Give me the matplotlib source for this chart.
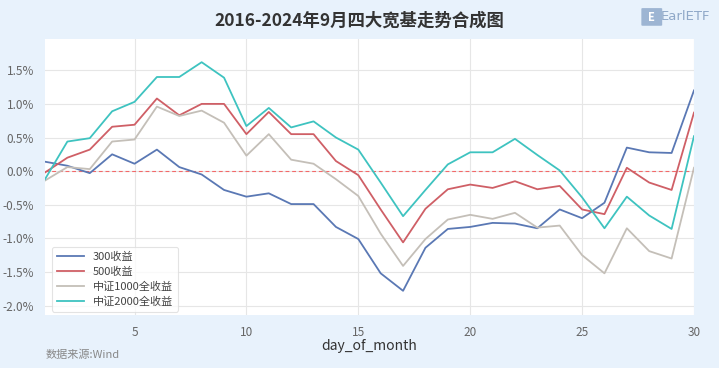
import matplotlib
matplotlib.use('Agg')
import matplotlib.pyplot as plt
from matplotlib.patches import FancyBboxPatch

plt.rcParams['font.family'] = ['Noto Sans CJK SC', 'DejaVu Sans']
plt.rcParams['axes.unicode_minus'] = False

# 数据
days = list(range(1, 31))
ret_300 = [0.14, 0.08, -0.03, 0.25, 0.11, 0.32, 0.06, -0.05, -0.28, -0.38,
           -0.33, -0.49, -0.49, -0.83, -1.01, -1.52, -1.78, -1.14, -0.86, -0.83,
           -0.77, -0.78, -0.85, -0.57, -0.70, -0.47, 0.35, 0.28, 0.27, 1.20]
ret_500 = [-0.02, 0.20, 0.32, 0.66, 0.69, 1.08, 0.83, 1.00, 1.00, 0.55,
           0.88, 0.55, 0.55, 0.15, -0.06, -0.57, -1.06, -0.56, -0.27, -0.20,
           -0.25, -0.15, -0.27, -0.22, -0.57, -0.64, 0.05, -0.17, -0.28, 0.87]
ret_1000 = [-0.14, 0.06, 0.03, 0.44, 0.47, 0.96, 0.82, 0.90, 0.72, 0.23,
            0.55, 0.17, 0.11, -0.12, -0.37, -0.93, -1.41, -1.01, -0.72, -0.65,
            -0.71, -0.62, -0.84, -0.81, -1.25, -1.52, -0.85, -1.19, -1.30, 0.05]
ret_2000 = [-0.12, 0.44, 0.49, 0.89, 1.03, 1.40, 1.40, 1.62, 1.39, 0.67,
            0.94, 0.65, 0.74, 0.50, 0.32, -0.17, -0.67, -0.28, 0.10, 0.28,
            0.28, 0.48, 0.24, 0.01, -0.39, -0.85, -0.38, -0.66, -0.86, 0.52]
labels = ['300收益', '500收益', '中证1000全收益', '中证2000全收益']
colors = ['#5A78B4', '#CF5F66', '#C4BFB8', '#3EC3C0']
yticks = [-2.0, -1.5, -1.0, -0.5, 0.0, 0.5, 1.0, 1.5]

bg = '#E8F2FC'
fig = plt.figure(figsize=(7.19, 3.68), dpi=100, facecolor=bg)
ax = fig.add_axes([0.0626, 0.144, 0.9026, 0.75])
ax.set_facecolor('white')

for series, lab, c in zip([ret_300, ret_500, ret_1000, ret_2000], labels, colors):
    ax.plot(days, series, color=c, lw=1.3, label=lab)

# 0 轴参考线
ax.axhline(0, color='#F26A6A', lw=0.8, ls=(0, (3.5, 2.5)), zorder=1)

ax.set_xlim(1, 30)
ax.set_ylim(-2.14, 1.965)
ax.set_xticks([5, 10, 15, 20, 25, 30])
ax.set_yticks(yticks)
ax.set_yticklabels([f'{v:.1f}%' for v in yticks])
ax.grid(True, color='#E6E6E6', lw=0.8)
ax.set_axisbelow(True)
for s in ax.spines.values():
    s.set_visible(False)
ax.tick_params(length=0, labelsize=8.5, colors='#666666', pad=8)
ax.set_xlabel('day_of_month', fontsize=10, color='#333333', labelpad=0)

leg = ax.legend(loc='lower left', fontsize=8, frameon=True, handlelength=2.4,
                handletextpad=0.8, borderpad=0.45, labelspacing=0.42,
                borderaxespad=0, bbox_to_anchor=(0.011, 0.012))
leg.get_frame().set_edgecolor('#DDDDDD')
leg.get_frame().set_linewidth(0.8)
for t in leg.get_texts():
    t.set_color('#444444')

fig.text(0.5, 0.945, '2016-2024年9月四大宽基走势合成图', ha='center', va='center',
         fontsize=12.5, fontweight='bold', color='#333333')
fig.text(0.063, 0.035, '数据来源:Wind', ha='left', va='center', fontsize=8, color='#888888')

# logo
logo = FancyBboxPatch((0.894, 0.932), 0.025, 0.044, boxstyle='round,pad=0.002',
                      transform=fig.transFigure, facecolor='#9DB5D3', edgecolor='none')
fig.patches.append(logo)
fig.text(0.9065, 0.953, 'E', ha='center', va='center', fontsize=8, fontweight='bold', color='white')
fig.text(0.919, 0.955, 'EarlETF', ha='left', va='center', fontsize=9.5, color='#8FA8C8',
         family='DejaVu Sans')

fig.savefig('out.png', dpi=100, facecolor=bg)
